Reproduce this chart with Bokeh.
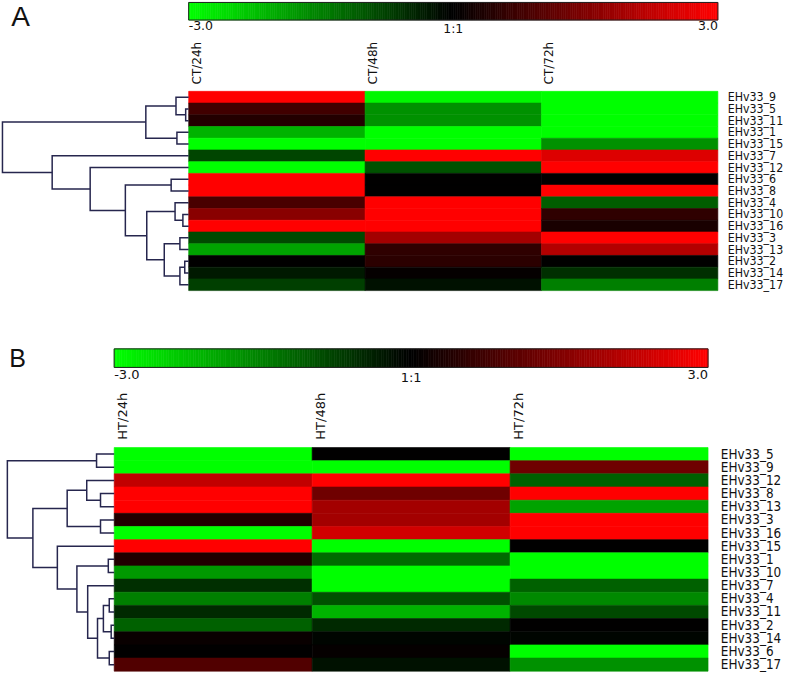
import numpy as np
from bokeh.plotting import figure
from bokeh.models import Range1d, ColumnDataSource, LinearColorMapper
from bokeh.layouts import column
from bokeh.embed import file_html
from bokeh.resources import INLINE
from bokeh.core.properties import value
from bokeh.transform import transform

# ---------------- data ----------------
VMIN, VMAX = -3.0, 3.0
CB_TICKS = [-3.0, 0.0, 3.0]
CB_LABELS = ["-3.0", "1:1", "3.0"]

A_COLUMNS = ["CT/24h", "CT/48h", "CT/72h"]
A_GENES = ["EHv33_9", "EHv33_5", "EHv33_11", "EHv33_1", "EHv33_15", "EHv33_7",
           "EHv33_12", "EHv33_6", "EHv33_8", "EHv33_4", "EHv33_10", "EHv33_16",
           "EHv33_3", "EHv33_13", "EHv33_2", "EHv33_14", "EHv33_17"]
A_CT24 = [3.0, 0.75, 0.4, -2.1, -3.0, -0.8, -3.0, 3.0, 3.0, 0.85, 1.6, 3.0,
          -0.85, -1.9, 0.0, -0.3, -0.75]
A_CT48 = [-2.9, -1.7, -1.7, -3.0, -3.0, 3.0, -0.95, 0.0, 0.0, 3.0, 3.0, 3.0,
          1.9, 0.55, 0.5, 0.05, -0.2]
A_CT72 = [-3.0, -3.0, -3.0, -3.0, -1.7, 2.6, 3.0, 0.0, 3.0, -1.1, 0.55, 0.3,
          3.0, 2.1, 0.0, -0.55, -1.5]
# hierarchical clustering (linkage): left child, right child, height (root = 1)
A_LINK_L = ["EHv33_5", "EHv33_9", "EHv33_1", "#1", "EHv33_2", "#4", "EHv33_3", "#6",
            "EHv33_10", "EHv33_4", "#9", "EHv33_6", "#11", "EHv33_12", "EHv33_7", "#3"]
A_LINK_R = ["EHv33_11", "#0", "EHv33_15", "#2", "EHv33_14", "EHv33_17", "EHv33_13", "#5",
            "EHv33_16", "#8", "#7", "EHv33_8", "#10", "#12", "#13", "#14"]
A_LINK_H = [0.016, 0.068, 0.063, 0.23, 0.021, 0.047, 0.047, 0.131,
            0.031, 0.073, 0.225, 0.094, 0.340, 0.529, 0.733, 1.0]

B_COLUMNS = ["HT/24h", "HT/48h", "HT/72h"]
B_GENES = ["EHv33_5", "EHv33_9", "EHv33_12", "EHv33_8", "EHv33_13", "EHv33_3",
           "EHv33_16", "EHv33_15", "EHv33_1", "EHv33_10", "EHv33_7", "EHv33_4",
           "EHv33_11", "EHv33_2", "EHv33_14", "EHv33_6", "EHv33_17"]
B_HT24 = [-3.0, -3.0, 2.25, 3.0, 3.0, 0.38, -3.0, 3.0, 0.38, -1.8, -0.56, -1.5,
          -0.47, -1.13, 0.1, 0.0, 0.94]
B_HT48 = [0.0, -3.0, 3.0, 1.3, 1.9, 1.9, 2.45, -3.0, -1.25, -3.0, -3.0, -0.94,
          -2.1, -0.47, -0.06, 0.05, -0.19]
B_HT72 = [-3.0, 1.3, -1.13, 3.0, -1.9, 3.0, 3.0, 0.0, -3.0, -3.0, -1.13, -1.6,
          -0.85, 0.0, -0.05, -3.0, -1.7]
B_LINK_L = ["EHv33_5", "EHv33_8", "EHv33_12", "EHv33_3", "#2", "EHv33_1", "EHv33_4", "EHv33_2",
            "#6", "EHv33_6", "#8", "EHv33_7", "#5", "EHv33_15", "#4", "#0"]
B_LINK_R = ["EHv33_9", "EHv33_13", "#1", "EHv33_16", "#3", "EHv33_10", "EHv33_11", "EHv33_14",
            "#7", "EHv33_17", "#9", "#10", "#11", "#12", "#13", "#14"]
B_LINK_H = [0.165, 0.128, 0.257, 0.128, 0.440, 0.055, 0.046, 0.028,
            0.101, 0.046, 0.156, 0.248, 0.349, 0.532, 0.761, 1.0]

# ---------------- style / layout ----------------
def green_black_red(n=256):
    pal = []
    for i in range(n):
        t = i / (n - 1) * 2 - 1
        if t < 0:
            pal.append("#%02x%02x%02x" % (0, int(round(-t * 255)), 0))
        else:
            pal.append("#%02x%02x%02x" % (int(round(t * 255)), 0, 0))
    return pal

PALETTE = green_black_red()
DENDRO_COLOR = "#26264e"
PAGE_W, PAGE_H = 784, 673
REF_W, REF_H = 800, 689
SX, SY = PAGE_W / REF_W, PAGE_H / REF_H

# layout given in reference-picture pixels, scaled to the page
LAYOUT_A = dict(top=0, bottom=330, hm_left=192, hm_right=732, hm_top=93, hm_bottom=297,
                root_x=2, cb_top=2, cb_bottom=20, cb_lab_gap=1, col_lab_gap=7, col_lab_dx=1,
                lab_x=742, letter_x=11, letter_top=0.5, letter_size="28px",
                row_font="12.3px", col_font="12px", cb_font="12.5px")
LAYOUT_B = dict(top=330, bottom=689, hm_left=116, hm_right=722, hm_top=458, hm_bottom=687,
                root_x=7, cb_top=357, cb_bottom=376, cb_lab_gap=3, col_lab_gap=8, col_lab_dx=1,
                lab_x=735, letter_x=9, letter_top=352, letter_size="25px",
                row_font="13.4px", col_font="13px", cb_font="13px")


def build_panel(letter, columns, genes, series, link_l, link_r, link_h, L):
    ncol, nrow = len(columns), len(genes)
    H = int(round((L["bottom"] - L["top"]) * SY))
    col_w = (L["hm_right"] - L["hm_left"]) * SX / ncol     # px per column unit
    row_h = (L["hm_bottom"] - L["hm_top"]) * SY / nrow     # px per row unit
    x0 = L["hm_left"] * SX
    y0 = (L["hm_top"] - L["top"]) * SY

    def ux(rx):  # reference x pixel -> data x
        return (rx * SX - x0) / col_w

    def uy(ry):  # reference y pixel -> data y
        return ((ry - L["top"]) * SY - y0) / row_h

    xr = Range1d(-x0 / col_w, (PAGE_W - x0) / col_w)
    yr = Range1d((H - y0) / row_h, -y0 / row_h)
    p = figure(width=PAGE_W, height=H, x_range=xr, y_range=yr, output_backend="svg",
               toolbar_location=None, min_border=0, x_axis_location=None,
               y_axis_location=None, outline_line_color=None)
    p.grid.visible = False

    mapper = LinearColorMapper(palette=PALETTE, low=VMIN, high=VMAX)

    # heatmap cells
    xs, ys, vs = [], [], []
    for j, vals in enumerate(series):
        for i, v in enumerate(vals):
            xs.append(j + 0.5)
            ys.append(i + 0.5)
            vs.append(v)
    src = ColumnDataSource(dict(x=xs, y=ys, v=vs))
    p.rect(x="x", y="y", width=1, height=1, source=src,
           fill_color=transform("v", mapper), line_color=transform("v", mapper), line_width=0.6)

    # dendrogram
    pos = {g: i + 0.5 for i, g in enumerate(genes)}
    hx = {g: 0.0 for g in genes}
    DW = -ux(L["root_x"])
    mx, my = [], []
    for k, (a, b, h) in enumerate(zip(link_l, link_r, link_h)):
        xn = -h * DW
        mx.append([hx[a], xn, xn, hx[b]])
        my.append([pos[a], pos[a], pos[b], pos[b]])
        pos["#%d" % k] = (pos[a] + pos[b]) / 2
        hx["#%d" % k] = xn
    p.multi_line(xs=mx, ys=my, line_color=DENDRO_COLOR, line_width=1.5, line_join="miter")

    # colour bar
    cb_top, cb_bot = uy(L["cb_top"]), uy(L["cb_bottom"])
    steps = np.linspace(VMIN, VMAX, 241)
    edges = (steps - VMIN) / (VMAX - VMIN) * ncol
    mids = (steps[:-1] + steps[1:]) / 2
    cb = ColumnDataSource(dict(l=edges[:-1], r=edges[1:], v=mids))
    p.quad(left="l", right="r", top=cb_top, bottom=cb_bot, source=cb,
           fill_color=transform("v", mapper), line_color=transform("v", mapper), line_width=0.6)
    p.quad(left=0, right=ncol, top=cb_top, bottom=cb_bot, fill_color=None,
           line_color="#222222", line_width=1)
    aligns = ["left", "center", "right"]
    tx = [(t - VMIN) / (VMAX - VMIN) * ncol for t in CB_TICKS]
    p.text(x=tx, y=[uy(L["cb_bottom"] + L["cb_lab_gap"])] * len(tx), text=CB_LABELS,
           text_align=aligns, text_baseline="top", text_font=value("DejaVu Sans"),
           text_font_size=L["cb_font"], text_color="#111111")

    # column labels (vertical)
    p.text(x=[j + L["col_lab_dx"] * SX / col_w for j in range(ncol)],
           y=[uy(L["hm_top"] - L["col_lab_gap"])] * ncol,
           text=columns, angle=np.pi / 2, text_align="left", text_baseline="top",
           text_font=value("DejaVu Sans"), text_font_size=L["col_font"], text_color="#111111")

    # row labels
    p.text(x=[ux(L["lab_x"])] * nrow, y=[i + 0.5 for i in range(nrow)],
           text=genes, text_align="left", text_baseline="middle",
           text_font=value("DejaVu Sans Condensed"), text_font_size=L["row_font"],
           text_color="#111111")

    # panel letter
    p.text(x=[ux(L["letter_x"])], y=[uy(L["letter_top"])],
           text=[letter], text_align="left", text_baseline="top",
           text_font=value("Liberation Sans"), text_font_size=L["letter_size"], text_color="#111111")
    return p


pA = build_panel("A", A_COLUMNS, A_GENES, [A_CT24, A_CT48, A_CT72],
                 A_LINK_L, A_LINK_R, A_LINK_H, LAYOUT_A)
pB = build_panel("B", B_COLUMNS, B_GENES, [B_HT24, B_HT48, B_HT72],
                 B_LINK_L, B_LINK_R, B_LINK_H, LAYOUT_B)

page = column(pA, pB, spacing=0)
open("out.html", "w").write(file_html(page, INLINE))
